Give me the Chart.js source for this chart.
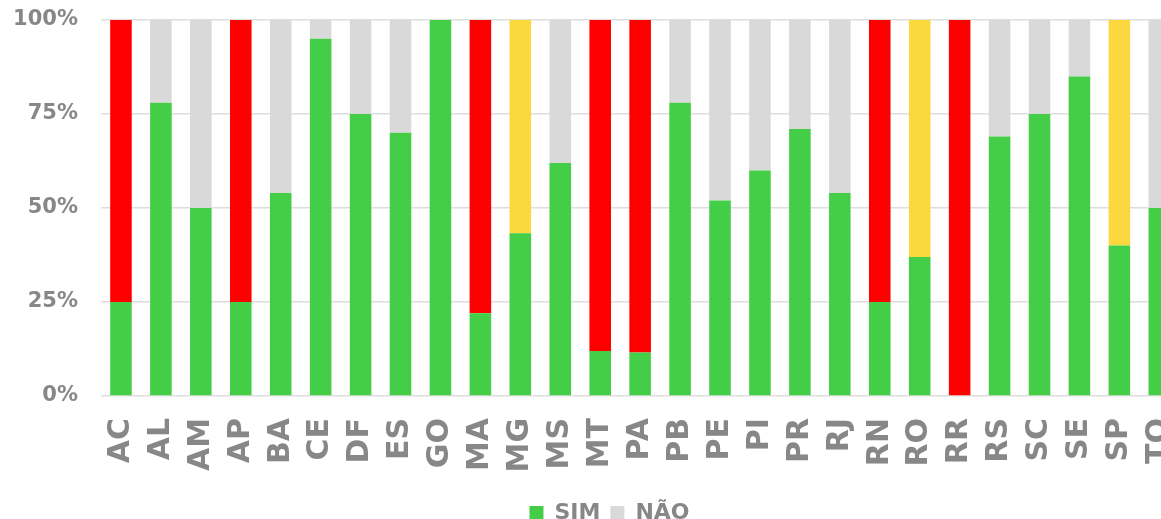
<!DOCTYPE html>
<html>
<head>
<meta charset="utf-8">
<script src="https://cdn.jsdelivr.net/npm/chart.js@4/dist/chart.umd.min.js"></script>
<style>
  html, body { margin: 0; padding: 0; background: #fff; overflow: hidden; }
  #wrap { width: 1218px; height: 534px; }
</style>
</head>
<body>
<div id="wrap"><canvas id="grafico"></canvas></div>
<script>
const estados = ["AC","AL","AM","AP","BA","CE","DF","ES","GO","MA","MG","MS","MT","PA","PB","PE","PI","PR","RJ","RN","RO","RR","RS","SC","SE","SP","TO"];
const sim = [25, 78, 50, 25, 54, 95, 75, 70, 100, 22, 43.3, 62, 12, 11.6, 78, 52, 60, 71, 54, 25, 37, 0, 69, 75, 85, 40, 50];
const nao = sim.map(v => 100 - v);
// tipo da parte "NÃO": normal, alerta (vermelho) ou parcial (amarelo)
const tipoNao = ["alerta","normal","normal","alerta","normal","normal","normal","normal","normal","alerta","parcial","normal","alerta","alerta","normal","normal","normal","normal","normal","alerta","parcial","alerta","normal","normal","normal","parcial","normal"];
const yTicks = [0, 25, 50, 75, 100];

const corTipo = { normal: "#d9d9d9", alerta: "#ff0000", parcial: "#fcd83f" };
const cinzaTexto = "#878787";

// legenda um pouco para a direita, como no original
const moveLegenda = {
    id: "moveLegenda",
    afterLayout: (c) => {
        c.legend.left += 19;
        c.legend.right += 19;
    }
};

const chart = new Chart(document.getElementById("grafico"), {
    type: "bar",
    data: {
        labels: estados,
        datasets: [
            {
                label: "SIM",
                data: sim,
                backgroundColor: "#44ce47",
                categoryPercentage: 1,
                barPercentage: 0.54
            }, {
                label: "NÃO",
                data: nao,
                backgroundColor: tipoNao.map(t => corTipo[t]),
                categoryPercentage: 1,
                barPercentage: 0.54
            }
        ]
    },
    options: {
        responsive: true,
        maintainAspectRatio: false,
        animation: false,
        layout: { padding: { top: 20, right: 37, left: 0, bottom: 0 } },
        scales: {
            x: {
                stacked: true,
                grid: { display: false, drawTicks: false },
                border: { display: false },
                ticks: {
                    color: cinzaTexto,
                    font: { family: "DejaVu Sans", weight: "bold", size: 30 },
                    minRotation: 90,
                    maxRotation: 90,
                    autoSkip: false,
                    padding: 22
                },
                afterFit: (s) => { s.height = 96; }
            },
            y: {
                stacked: true,
                min: 0,
                max: 100,
                afterBuildTicks: (s) => { s.ticks = yTicks.map(v => ({ value: v })); },
                grid: { color: "#dedede", lineWidth: 1.5, drawTicks: false },
                border: { display: false },
                ticks: {
                    color: cinzaTexto,
                    font: { family: "DejaVu Sans", weight: "bold", size: 21 },
                    padding: 23,
                    callback: (v) => v + "%"
                },
                afterFit: (s) => {
                    s.width = 101;
                    s.paddingTop = 0;
                    s.paddingBottom = 0;
                }
            }
        },
        plugins: {
            legend: {
                position: "bottom",
                labels: {
                    color: cinzaTexto,
                    font: { family: "DejaVu Sans", weight: "bold", size: 22 },
                    boxWidth: 14,
                    boxHeight: 14,
                    padding: 10,
                    generateLabels: (c) => c.data.datasets.map((ds, i) => ({
                        text: ds.label,
                        fillStyle: i === 0 ? "#44ce47" : corTipo.normal,
                        strokeStyle: "transparent",
                        lineWidth: 0,
                        fontColor: cinzaTexto,
                        datasetIndex: i
                    }))
                }
            },
            tooltip: { enabled: false }
        }
    },
    plugins: [moveLegenda]
});
</script>
</body>
</html>
